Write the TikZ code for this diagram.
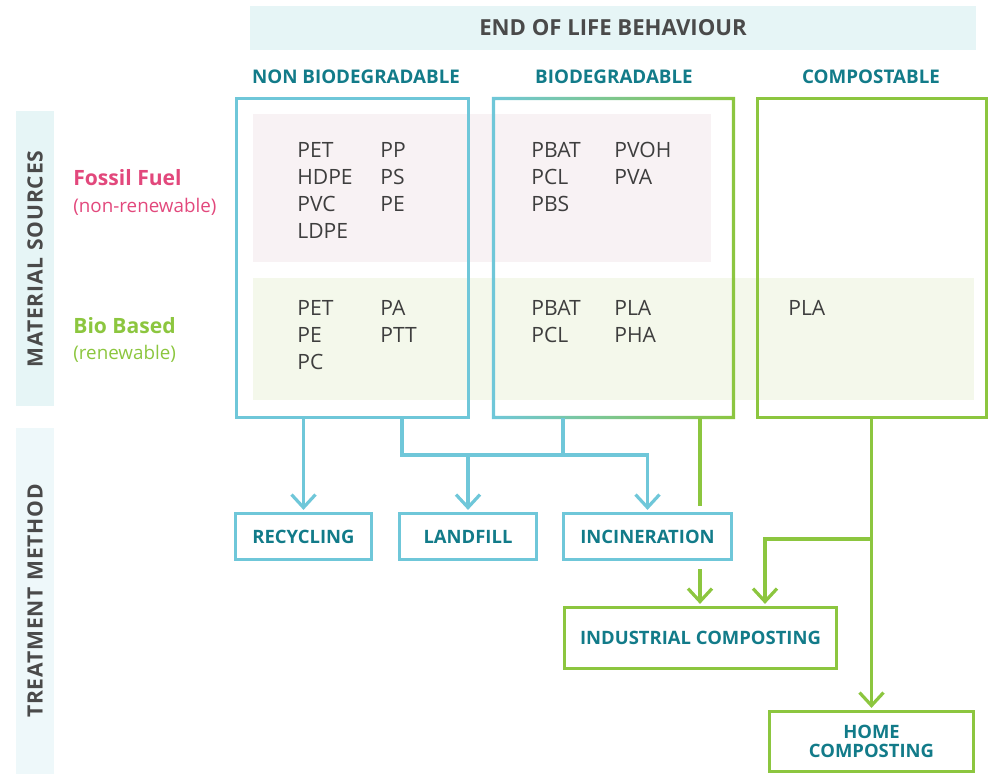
\documentclass[tikz,border=0pt]{standalone}
\usepackage{fontspec}
\setmainfont{Open Sans}
\newfontfamily\sidefont{Open Sans}[LetterSpace=4]
\usetikzlibrary{arrows.meta}

\definecolor{eolcyan}{HTML}{6FC7D9}
\definecolor{eolgreen}{HTML}{8CC63F}
\definecolor{eolteal}{HTML}{127B89}
\definecolor{eolgray}{HTML}{3E3E3E}
\definecolor{eolhead}{HTML}{4A4A4A}
\definecolor{eolpink}{HTML}{E2487C}
\definecolor{headband}{HTML}{E6F5F6}
\definecolor{sideband}{HTML}{EEF8FA}
\definecolor{fossilband}{HTML}{F8F2F4}
\definecolor{bioband}{HTML}{F4F8EB}

\newdimen\pxu \pxu=0.02cm

\tikzset{
  box/.style={draw, line width=3.2\pxu, inner sep=0pt},
  colbox/.style={box, minimum height=319\pxu},
  treat/.style={box, draw=eolcyan, minimum height=46\pxu, text=eolteal,
    font=\bfseries\fontsize{10.5}{11}\selectfont},
  comp/.style={treat, draw=eolgreen, minimum height=61\pxu},
  mat/.style={anchor=north west, inner sep=0pt, align=left, text=eolgray,
    font=\fontsize{12}{15.4}\selectfont},
  coltext/.style={text=eolteal, inner sep=0pt, font=\bfseries\fontsize{10.7}{12}\selectfont},
  sidetext/.style={text=eolhead, inner sep=0pt, rotate=90, font=\sidefont\bfseries\fontsize{12}{13}\selectfont},
  srcname/.style={anchor=base west, inner sep=0pt, font=\bfseries\fontsize{12}{13}\selectfont},
  srcnote/.style={anchor=base west, inner sep=0pt, font=\fontsize{10.7}{12}\selectfont},
  link/.style={line width=3.2\pxu},
  arr/.style={link, -{Straight Barb[length=0.26cm, width=0.48cm]}, shorten >=0.04cm},
}

\begin{document}
\begin{tikzpicture}[x=0.02cm, y=-0.02cm]
\useasboundingbox (0,0) rectangle (993,774);

% background bands
\fill[headband] (250,6) rectangle (976,50);
\fill[headband] (16,111) rectangle (54,406);
\fill[sideband] (16,428) rectangle (54,774);
\fill[fossilband] (253,114) rectangle (711,262);
\fill[bioband] (253,278) rectangle (974,400);

% headings
\node[text=eolhead, inner sep=0pt, font=\bfseries\fontsize{12.6}{14}\selectfont] (eol) at (613,28) {END OF LIFE BEHAVIOUR};
\node[coltext] (nbh) at (356,77) {NON BIODEGRADABLE};
\node[coltext] (bdh) at (614,77) {BIODEGRADABLE};
\node[coltext] (cph) at (871,77) {COMPOSTABLE};
\node[sidetext] (ms) at (35,259) {MATERIAL SOURCES};
\node[sidetext] (tm) at (35,601) {TREATMENT METHOD};

% material sources
\node[srcname, text=eolpink] (ff) at (73,185) {Fossil Fuel};
\node[srcnote, text=eolpink] (ffn) at (73,212) {(non-renewable)};
\node[srcname, text=eolgreen] (bb) at (73,333) {Bio Based};
\node[srcnote, text=eolgreen] (bbn) at (73,359) {(renewable)};

% column boxes
\node[colbox, draw=eolcyan, minimum width=232\pxu] (nb) at (352.5,258) {};
\node[colbox, draw=none, outer sep=0pt, minimum width=240\pxu] (bd) at (613.5,258) {};
\shade[left color=eolcyan, right color=eolgreen, even odd rule]
  ([shift={(-1.6,-1.6)}]bd.north west) rectangle ([shift={(1.6,1.6)}]bd.south east)
  ([shift={(1.6,1.6)}]bd.north west) rectangle ([shift={(-1.6,-1.6)}]bd.south east);
\node[colbox, draw=eolgreen, minimum width=229\pxu] (cp) at (872,258) {};

% polymers
\node[mat] (nbf1) at (297,142) {PET\\HDPE\\PVC\\LDPE};
\node[mat] (nbf2) at (380,142) {PP\\PS\\PE};
\node[mat] (nbb1) at (297,300) {PET\\PE\\PC};
\node[mat] (nbb2) at (380,300) {PA\\PTT};
\node[mat] (bdf1) at (531,142) {PBAT\\PCL\\PBS};
\node[mat] (bdf2) at (614,142) {PVOH\\PVA};
\node[mat] (bdb1) at (531,300) {PBAT\\PCL};
\node[mat] (bdb2) at (614,300) {PLA\\PHA};
\node[mat] (cpb1) at (788,300) {PLA};

% treatment methods
\node[treat, minimum width=136\pxu] (rec) at (303.5,536.5) {RECYCLING};
\node[treat, minimum width=137\pxu] (lf) at (468,536.5) {LANDFILL};
\node[treat, minimum width=168\pxu] (inc) at (647.5,536.5) {INCINERATION};
\node[comp, minimum width=272\pxu] (ic) at (700.5,638) {INDUSTRIAL COMPOSTING};
\node[comp, minimum width=204\pxu, minimum height=60\pxu, align=center,
  font=\bfseries\fontsize{10.5}{10.8}\selectfont] (hc) at (871.5,741.5) {HOME\\COMPOSTING};

% connectors
\coordinate (nbj) at (402,455);
\coordinate (bdj) at (563,455);
\draw[arr, eolcyan] (nb.south -| rec.north) -- (rec.north);
\draw[arr, eolcyan] (nb.south -| nbj) -- (nbj) -| (inc.north);
\draw[arr, eolcyan] (nbj -| lf.north) -- (lf.north);
\draw[link, eolcyan] (bd.south -| bdj) -- (bdj);

\coordinate (gtop) at (700,506);
\coordinate (gbot) at (700,569);
\coordinate (cpj) at (871,539);
\coordinate (icr) at (765,606);
\draw[link, eolgreen] (bd.south -| gtop) -- (gtop);
\draw[arr, eolgreen] (gbot) -- (gbot |- ic.north);
\draw[arr, eolgreen] (cp.south -| hc.north) -- (hc.north);
\draw[arr, eolgreen] (cpj) -| (icr |- ic.north);
\end{tikzpicture}
\end{document}
